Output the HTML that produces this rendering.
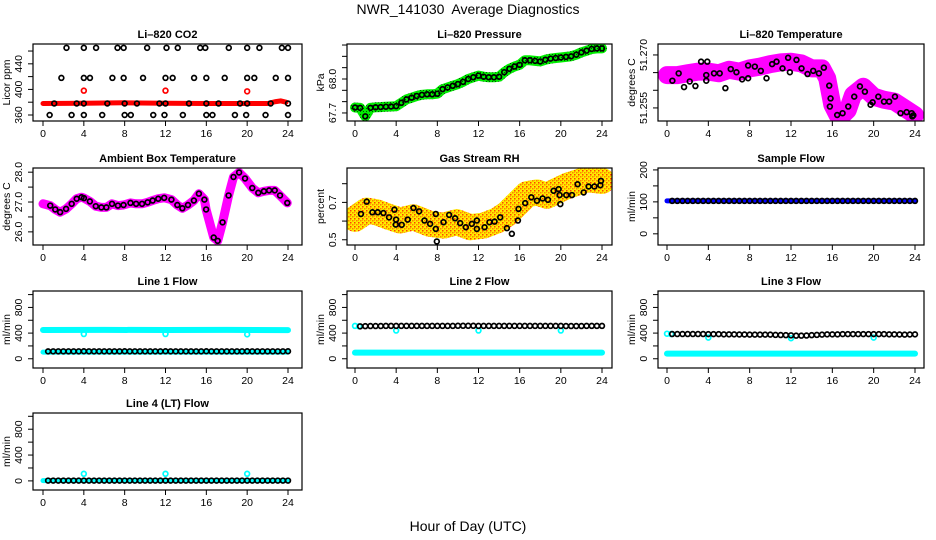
<!DOCTYPE html>
<html><head><meta charset="utf-8"><style>
html,body{margin:0;padding:0;background:#fff;}
svg{display:block;font-family:"Liberation Sans",sans-serif;}
</style></head><body>
<svg id="chart" width="936" height="540" viewBox="0 0 936 540" xmlns="http://www.w3.org/2000/svg">
<defs>
<pattern id="rhPat" width="4" height="4" patternUnits="userSpaceOnUse"><rect width="4" height="4" fill="#ffee00"/><rect width="1.5" height="1.5" fill="#ff8000"/><rect x="2" y="2" width="1.5" height="1.5" fill="#ff4000"/><rect x="2" y="0" width="1" height="1" fill="#ffaa00"/></pattern>
<pattern id="grPat" width="3" height="3" patternUnits="userSpaceOnUse"><rect width="3" height="3" fill="#00ee00"/><rect width="1" height="1" fill="#005500"/></pattern>
</defs>
<text x="468" y="14" text-anchor="middle" font-size="14" style="white-space:pre">NWR_141030  Average Diagnostics</text>
<text x="468" y="531" text-anchor="middle" font-size="14">Hour of Day (UTC)</text>
</svg>
<script>
// ---------- data ----------
const xTicks = [0,4,8,12,16,20,24];
const halfHours = [0.5,1,1.5,2,2.5,3,3.5,4,4.5,5,5.5,6,6.5,7,7.5,8,8.5,9,9.5,10,10.5,11,11.5,12,12.5,13,13.5,14,14.5,15,15.5,16,16.5,17,17.5,18,18.5,19,19.5,20,20.5,21,21.5,22,22.5,23,23.5,24];

const co2BlackT = [2.3,4.0,5.2,7.3,7.9,10.2,12.1,13.2,15.4,15.9,18.2,20.0,21.2,23.4,24.0, 1.8,4.0,4.6,6.8,7.9,9.8,12.0,12.7,14.8,16.0,17.8,20.0,20.7,22.8,24.0, 1.1,3.3,4.0,6.3,8.0,9.2,11.4,12.0,14.3,16.0,17.2,19.3,20.0,22.3,24.0, 0.65,2.8,4.0,5.8,8.0,8.6,10.8,11.9,13.7,16.0,16.6,18.8,19.9,21.8,24.0];
const co2BlackV = [465,465,465,465,465,465,465,465,465,465,465,465,465,465,465, 418,418,418,418,418,418,418,418,418,418,418,418,418,418,418, 378,378,378,378,378,378,378,378,378,378,378,378,378,378,378, 360,360,360,360,360,360,360,360,360,360,360,360,360,360,360];
const co2RedT = [0,4,8,12,16,20,22,22.8,23.3,23.8];
const co2RedV = [378,378.5,379,378.5,378,378,378,381,382,380];
const co2RedOutT = [4,12,20];
const co2RedOutV = [398,398,397];

const presT = [0,0.5,1,1.5,2,2.5,3,3.5,4,4.5,5,5.5,6,6.5,7,7.5,8,8.5,9,9.5,10,10.5,11,11.5,12,12.5,13,13.5,14,14.5,15,15.5,16,16.5,17,17.5,18,18.5,19,19.5,20,20.5,21,21.5,22,22.5,23,23.5,24];
const presV = [67.748,67.745,67.67,67.745,67.75,67.752,67.755,67.757,67.76,67.79,67.82,67.835,67.85,67.86,67.865,67.865,67.87,67.91,67.925,67.94,67.955,67.975,68.0,68.015,68.03,68.02,68.015,68.015,68.02,68.06,68.09,68.11,68.125,68.165,68.165,68.16,68.155,68.17,68.18,68.185,68.19,68.195,68.2,68.215,68.235,68.25,68.265,68.27,68.27];

const tempBandT = [0,1,2,3,4,5,6,7,8,9,10,11,12,13,14,15,15.5,16,16.5,17,17.5,18,19,20,21,22,23,24];
const tempBandV = [51.2643,51.2643,51.2648,51.2653,51.2653,51.2648,51.2658,51.2653,51.2662,51.2667,51.2674,51.2679,51.2681,51.2676,51.2662,51.2662,51.2634,51.2559,51.2530,51.2530,51.2544,51.2587,51.2610,51.2582,51.2573,51.2568,51.2549,51.2530];
const tempBlackT = [0.52,1.13,1.65,2.2,2.75,3.3,3.9,3.8,3.8,4.55,5.1,5.65,6.17,6.72,7.27,7.85,7.85,8.5,9.08,9.63,10.17,10.6,11.18,11.72,11.89,12.53,13.02,13.6,14.15,14.7,15.18,15.7,15.83,15.76,16.47,16.99,17.54,18.12,18.67,19.15,19.7,19.9,20.45,21.0,21.5,22.06,22.6,23.19,23.68,23.74,23.84];
const tempBlackV = [51.2627,51.2648,51.2609,51.2625,51.2612,51.2681,51.2681,51.2643,51.2627,51.2648,51.2648,51.2606,51.2660,51.2651,51.2631,51.2670,51.2634,51.2667,51.2655,51.2634,51.2674,51.2681,51.2662,51.2692,51.2651,51.2686,51.2662,51.2646,51.2655,51.2648,51.2664,51.2613,51.2577,51.2554,51.2530,51.2535,51.2554,51.2582,51.2611,51.2596,51.2559,51.2566,51.2582,51.2568,51.2568,51.2582,51.2535,51.2538,51.2535,51.2526,51.2529];

const ambT = [0,0.71,1.2,1.68,2.26,2.81,3.3,3.78,4.01,4.59,5.17,5.72,6.21,6.76,7.34,7.89,8.57,9.12,9.7,10.25,10.74,11.29,11.87,12.58,13.16,13.65,14.2,14.78,15.27,15.81,15.98,16.72,17.11,17.59,18.18,18.66,19.21,19.79,20.5,21.09,21.64,22.15,22.7,23.22,23.93];
const ambV = [26.94,26.88,26.75,26.66,26.77,26.94,27.11,27.16,27.13,27.02,26.86,26.82,26.82,26.94,26.88,26.90,26.97,26.94,26.94,26.99,27.05,27.11,27.14,27.08,26.90,26.79,26.90,27.05,27.28,27.08,26.75,25.81,25.70,26.32,27.22,27.84,27.99,27.79,27.47,27.31,27.36,27.39,27.39,27.22,26.97];

const rhBandT = [0,1.14,2.11,3.41,4.38,5.68,7.3,8.6,9.89,11.19,12.49,13.79,14.76,15.73,16.7,17.68,18.65,19.62,20.6,21.57,22.54,24];
const rhBandV = [0.612,0.656,0.647,0.620,0.603,0.620,0.585,0.576,0.594,0.567,0.576,0.603,0.638,0.691,0.744,0.753,0.735,0.762,0.788,0.806,0.824,0.815];
const rhBlackT = [0.58,1.14,1.69,2.21,2.76,3.31,3.83,3.99,3.96,4.54,5.12,5.68,6.23,6.75,7.3,7.85,7.85,7.95,8.6,9.15,9.73,10.22,10.77,11.35,11.84,11.84,12.59,13.07,13.56,14.11,14.76,15.24,15.83,15.89,16.54,17.13,17.68,18.23,18.75,19.3,19.79,19.88,19.95,20.53,21.08,21.63,22.22,22.7,23.26,23.84,23.9];
const rhBlackV = [0.638,0.704,0.647,0.647,0.643,0.620,0.661,0.608,0.581,0.580,0.608,0.670,0.652,0.603,0.585,0.638,0.558,0.491,0.594,0.633,0.615,0.589,0.567,0.585,0.603,0.558,0.567,0.594,0.597,0.620,0.562,0.532,0.603,0.665,0.696,0.727,0.709,0.721,0.714,0.762,0.771,0.739,0.691,0.739,0.739,0.797,0.753,0.785,0.785,0.792,0.815];

const sampleBandT = [0,24];
const sampleBandV = [103,103];
const sampleBlackV = [103,103,103,103,103,103,103,103,103,103,103,103,103,103,103,103,103,103,103,103,103,103,103,103,103,103,103,103,103,103,103,103,103,103,103,103,103,103,103,103,103,103,103,103,103,103,103,103];

const l1CyanT = [0,6,12,18,24]; const l1CyanV = [448,450,448,450,446];
const l1CyanLowT = [0,24]; const l1CyanLowV = [104,104];
const l1DipT = [4,12,20]; const l1DipV = [385,385,380];
const l1BlackV = [115,116,116,116,116,116,116,117,116,116,116,116,116,116,116,117,116,116,116,116,116,116,116,117,116,116,116,116,116,116,116,117,116,116,116,116,116,116,116,117,116,116,116,116,116,116,116,117];

const l2CyanT = [0,24]; const l2CyanV = [96,96];
const l2CyanTopT = [0,0.4]; const l2CyanTopV = [512,505];
const l2DipT = [4,12,20]; const l2DipV = [440,440,440];
const l2BlackV = [505,508,510,510,510,512,512,512,512,512,512,512,512,512,512,512,512,512,512,514,514,514,514,512,512,512,512,512,512,512,512,512,512,512,512,512,512,512,512,512,510,510,510,510,512,512,512,512];

const l3CyanT = [0,24]; const l3CyanV = [80,80];
const l3CyanTopT = [0,0.4]; const l3CyanTopV = [390,385];
const l3DipT = [4,12,20]; const l3DipV = [330,320,330];
const l3BlackV = [385,385,385,385,385,385,385,384,384,384,380,380,380,378,378,376,376,376,376,376,372,370,368,365,360,360,362,368,372,376,380,380,380,384,384,384,384,384,384,384,384,384,380,380,378,376,378,380];

const l4CyanT = [0,24]; const l4CyanV = [5,5];
const l4DipT = [4,12,20]; const l4DipV = [110,110,110];
const l4BlackV = [5,5,5,5,5,5,5,5,5,5,5,5,5,5,5,5,5,5,5,5,5,5,5,5,5,5,5,5,5,5,5,5,5,5,5,5,5,5,5,5,5,5,5,5,5,5,5,5];

// ---------- layout ----------
const svg = document.getElementById('chart');
const NS = 'http://www.w3.org/2000/svg';
const cols = [{l:33,r:302,x0:43,x24:288},{l:347,r:612,x0:355,x24:602},{l:658,r:924,x0:667,x24:915}];
const rowTops = [44,168,291,413];
const H = 77;

function mk(tag, attrs, parent){
  const e = document.createElementNS(NS, tag);
  for (const k in attrs) e.setAttribute(k, attrs[k]);
  (parent || svg).appendChild(e);
  return e;
}

function panel(key, col, row, title, ylim, ticks, labels, ylab){
  const c = cols[col], top = rowTops[row], bot = top + H;
  const g = mk('g', {});
  
  
  const sx = t => c.x0 + (t / 24) * (c.x24 - c.x0);
  const sy = v => bot - (v - ylim[0]) / (ylim[1] - ylim[0]) * H;
  const cp = mk('clipPath', {id: 'clip-' + key}, g);
  mk('rect', {x: c.l, y: top, width: c.r - c.l, height: H}, cp);
  const plot = mk('g', {'clip-path': 'url(#clip-' + key + ')'}, g);
  
  
  const box = mk('rect', {x: c.l, y: top, width: c.r - c.l, height: H, fill: 'none', stroke: '#000', 'stroke-width': 1.2}, g);
  
  
  const tt = mk('text', {x: (c.l + c.r) / 2, y: top - 6, 'text-anchor': 'middle', 'font-size': 11, 'font-weight': 'bold'}, g);
  tt.textContent = title;
  
  
  const xa = mk('g', {}, g);
  
  
  xTicks.forEach(t => {
    mk('line', {x1: sx(t), x2: sx(t), y1: bot, y2: bot + 5, stroke: '#000'}, xa);
    const lb = mk('text', {x: sx(t), y: bot + 16, 'text-anchor': 'middle', 'font-size': 10.5}, xa);
    lb.textContent = t;
    
    
  });
  const ya = mk('g', {}, g);
  
  
  ticks.forEach(v => {
    mk('line', {x1: c.l - 5, x2: c.l, y1: sy(v), y2: sy(v), stroke: '#000'}, ya);
  });
  labels.forEach(v => {
    const x = c.l - 11, y = sy(v);
    const lb = mk('text', {x: x, y: y, 'text-anchor': 'middle', 'font-size': 10.5, transform: 'rotate(-90 ' + x + ' ' + y + ')'}, ya);
    lb.textContent = v;
    
    
  });
  const ax = c.l - 23, ay = top + H / 2;
  const yl = mk('text', {x: ax, y: ay, 'text-anchor': 'middle', 'font-size': 10.5, transform: 'rotate(-90 ' + ax + ' ' + ay + ')'}, ya);
  yl.textContent = ylab;
  
  
  return {sx, sy, plot};
}

function band(p, ts, vs, color, w, name){
  const d = ts.map((t, i) => (i ? 'L' : 'M') + p.sx(t).toFixed(1) + ',' + p.sy(vs[i]).toFixed(1)).join(' ');
  const e = mk('path', {d: d, fill: 'none', stroke: color, 'stroke-width': w, 'stroke-linejoin': 'round', 'stroke-linecap': 'round'}, p.plot);
  
  
}
function pts(p, ts, vs, color, name, sw){
  const g = mk('g', {}, p.plot);
  
  
  ts.forEach((t, i) => {
    const c = mk('circle', {cx: p.sx(t), cy: p.sy(vs[i]), r: 2.4, fill: 'none', stroke: color, 'stroke-width': sw || 1.7}, g);
    
    
  });
}

// ---------- panels ----------
let p;
p = panel('co2', 0, 0, 'Li\u2013820 CO2', [350.6, 471], [360,380,400,420,440,460], [360,400,440], 'Licor ppm');
band(p, co2RedT, co2RedV, '#ff0000', 5, 'co2-red-band');
pts(p, co2RedOutT, co2RedOutV, '#ff0000', 'co2-red-points');
pts(p, co2BlackT, co2BlackV, '#000', 'co2-black-points');

p = panel('pressure', 1, 0, 'Li\u2013820 Pressure', [67.629, 68.309], [67.7,67.8,67.9,68.0,68.1,68.2,68.3], ['67.7','68.0'], 'kPa');
band(p, presT, presV, 'url(#grPat)', 10, 'pressure-green-band');
pts(p, presT, presV, '#000', 'pressure-black-points');

p = panel('temperature', 2, 0, 'Li\u2013820 Temperature', [51.2513, 51.2731], [51.255,51.26,51.265,51.27], ['51.255','51.270'], 'degrees C');
band(p, tempBandT, tempBandV, '#ff00ff', 18, 'temperature-magenta-band');
pts(p, tempBlackT, tempBlackV, '#000', 'temperature-black-points');

p = panel('ambient', 0, 1, 'Ambient Box Temperature', [25.56, 28.14], [26,26.5,27,27.5,28], ['26.0','27.0','28.0'], 'degrees C');
band(p, ambT, ambV, '#ff00ff', 9, 'ambient-magenta-band');
pts(p, ambT.slice(1), ambV.slice(1), '#000', 'ambient-black-points');

p = panel('rh', 1, 1, 'Gas Stream RH', [0.472, 0.884], [0.5,0.6,0.7,0.8], ['0.5','0.7'], 'percent');
band(p, rhBandT, rhBandV, 'url(#rhPat)', 26, 'rh-yellow-band');
pts(p, rhBlackT, rhBlackV, '#000', 'rh-black-points');

p = panel('sample-flow', 2, 1, 'Sample Flow', [-35, 206], [0,50,100,150,200], [0,100,200], 'ml/min');
band(p, sampleBandT, sampleBandV, '#0000ff', 5, 'sample-blue-band');
pts(p, halfHours, sampleBlackV, '#000', 'sample-black-points');

const flowTicks = [0,200,400,600,800,1000], flowLabels = [0,400,800];
p = panel('line1', 0, 2, 'Line 1 Flow', [-144, 1056], flowTicks, flowLabels, 'ml/min');
band(p, l1CyanT, l1CyanV, '#00ffff', 6, 'line1-cyan-band');
band(p, l1CyanLowT, l1CyanLowV, '#00ffff', 5, 'line1-cyan-low-band');
pts(p, l1DipT, l1DipV, '#00ffff', 'line1-cyan-dips');
pts(p, halfHours, l1BlackV, '#000', 'line1-black-points');

p = panel('line2', 1, 2, 'Line 2 Flow', [-144, 1056], flowTicks, flowLabels, 'ml/min');
band(p, l2CyanT, l2CyanV, '#00ffff', 6, 'line2-cyan-band');
pts(p, l2CyanTopT, l2CyanTopV, '#00ffff', 'line2-cyan-start');
pts(p, l2DipT, l2DipV, '#00ffff', 'line2-cyan-dips');
pts(p, halfHours, l2BlackV, '#000', 'line2-black-points');

p = panel('line3', 2, 2, 'Line 3 Flow', [-144, 1056], flowTicks, flowLabels, 'ml/min');
band(p, l3CyanT, l3CyanV, '#00ffff', 6, 'line3-cyan-band');
pts(p, l3CyanTopT, l3CyanTopV, '#00ffff', 'line3-cyan-start');
pts(p, l3DipT, l3DipV, '#00ffff', 'line3-cyan-dips');
pts(p, halfHours, l3BlackV, '#000', 'line3-black-points');

p = panel('line4', 0, 3, 'Line 4 (LT) Flow', [-141, 1051], flowTicks, flowLabels, 'ml/min');
band(p, l4CyanT, l4CyanV, '#00ffff', 5, 'line4-cyan-band');
pts(p, l4DipT, l4DipV, '#00ffff', 'line4-cyan-spikes');
pts(p, halfHours, l4BlackV, '#000', 'line4-black-points');
</script>
</body></html>
